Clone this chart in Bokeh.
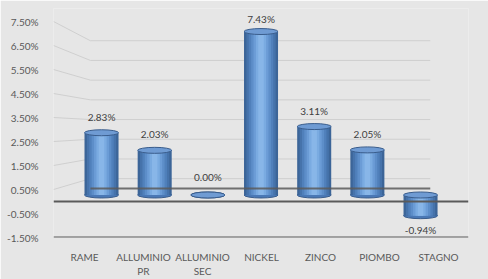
from bokeh.plotting import figure
from bokeh.models import Range1d, FixedTicker, PrintfTickFormatter, Span
from bokeh.embed import file_html
from bokeh.resources import INLINE
from bokeh.core.properties import value

# ---- data ----
categories = ["RAME", "ALLUMINIO\nPR", "ALLUMINIO\nSEC", "NICKEL", "ZINCO", "PIOMBO", "STAGNO"]
changes = [2.83, 2.03, 0.00, 7.43, 3.11, 2.05, -0.94]
y_ticks = [-1.5, -0.5, 0.5, 1.5, 2.5, 3.5, 4.5, 5.5, 6.5, 7.5]

# ---- layout / style ----
FONT = value("Lato")
BG = "#e6e6e6"
DARK = "#5a5a5a"
GRID = "#cfcfcf"
BAR_W = 0.64
WALL_X0, WALL_X1 = 0.10, 5.86   # back-wall extent in primary x units

P_Y = (-1.5, 8.042)
B_Y = (-2.487, 9.137)

p = figure(width=488, height=279, output_backend="svg", toolbar_location=None,
           x_range=Range1d(-0.525, 6.508), y_range=Range1d(*P_Y),
           min_border_left=53, min_border_right=20, min_border_top=8, min_border_bottom=42)
p.extra_x_ranges = {"bx": Range1d(-0.903, 6.902)}
p.extra_y_ranges = {"by": Range1d(-1.932, 8.477), "back": Range1d(*B_Y),
                    "lab": Range1d(-2.817, 7.934)}

p.background_fill_color = BG
p.border_fill_color = BG
p.outline_line_color = None
p.grid.visible = False

def back_to_primary(t):
    return P_Y[0] + (t - B_Y[0]) * (P_Y[1] - P_Y[0]) / (B_Y[1] - B_Y[0])

# back wall gridlines + perspective connectors
wall_ticks = [t for t in y_ticks if t > 0]
p.segment(x0=[WALL_X0] * len(wall_ticks), x1=[WALL_X1] * len(wall_ticks),
          y0=wall_ticks, y1=wall_ticks, y_range_name="back",
          line_color=GRID, line_width=1)
p.segment(x0=[-0.525] * len(wall_ticks), x1=[WALL_X0] * len(wall_ticks),
          y0=wall_ticks, y1=[back_to_primary(t) for t in wall_ticks],
          line_color=GRID, line_width=1)

# front zero line and floor
p.add_layout(Span(location=0, dimension="width", line_color=DARK, line_width=2))
p.add_layout(Span(location=y_ticks[0], dimension="width", line_color=DARK, line_width=2))

# cylinders
xs = list(range(len(categories)))
tops = [max(v, 0) for v in changes]
bots = [min(v, 0) for v in changes]

p.ellipse(x=xs, y=bots, width=BAR_W, height=6, height_units="screen",
          x_range_name="bx", y_range_name="by",
          fill_color="#4a78b5", line_color="#3a5d8c", line_width=1)

shades = [(1.00, "#3c6598"), (0.86, "#4673ab"), (0.72, "#5080bb"), (0.58, "#5d8ec9"),
          (0.44, "#6b9cd6"), (0.30, "#7aabe1"), (0.16, "#88b6e8")]
for frac, col in shades:
    p.vbar(x=xs, bottom=bots, top=tops, width=BAR_W * frac,
           x_range_name="bx", y_range_name="by",
           fill_color=col, line_color=None)

p.ellipse(x=xs, y=tops, width=BAR_W, height=6, height_units="screen",
          x_range_name="bx", y_range_name="by",
          fill_color="#6f9bd3", line_color="#3a5d8c", line_width=1)

# back zero line (drawn over bars)
p.segment(x0=[WALL_X0], x1=[WALL_X1], y0=[0], y1=[0], y_range_name="back",
          line_color=DARK, line_width=2, line_alpha=0.85)

# value labels
pos_x = [x for x, v in zip(xs, changes) if v >= 0]
pos_y = [v for v in changes if v >= 0]
pos_t = ["%.2f%%" % v for v in changes if v >= 0]
neg_x = [x for x, v in zip(xs, changes) if v < 0]
neg_y = [v for v in changes if v < 0]
neg_t = ["%.2f%%" % v for v in changes if v < 0]
p.text(x=pos_x, y=pos_y, text=pos_t, x_range_name="bx", y_range_name="lab",
       text_font=FONT, text_font_size="10px", text_color="#404040",
       text_align="center", text_baseline="middle")
p.text(x=neg_x, y=neg_y, text=neg_t, x_range_name="bx", y_range_name="by", y_offset=14,
       text_font=FONT, text_font_size="10px", text_color="#404040",
       text_align="center", text_baseline="middle")

# axes
p.yaxis.ticker = FixedTicker(ticks=y_ticks)
p.yaxis.formatter = PrintfTickFormatter(format="%.2f%%")
p.xaxis.ticker = FixedTicker(ticks=xs)
p.xaxis.major_label_overrides = {i: c for i, c in enumerate(categories)}
for ax in (p.xaxis, p.yaxis):
    ax.axis_line_color = None
    ax.major_tick_line_color = None
    ax.minor_tick_line_color = None
    ax.major_label_text_font = "Lato"
    ax.major_label_text_font_size = "10px"
    ax.major_label_text_color = "#595959"
p.yaxis.major_label_standoff = 9
p.xaxis.major_label_standoff = 7

open("out.html", "w").write(file_html(p, INLINE))
